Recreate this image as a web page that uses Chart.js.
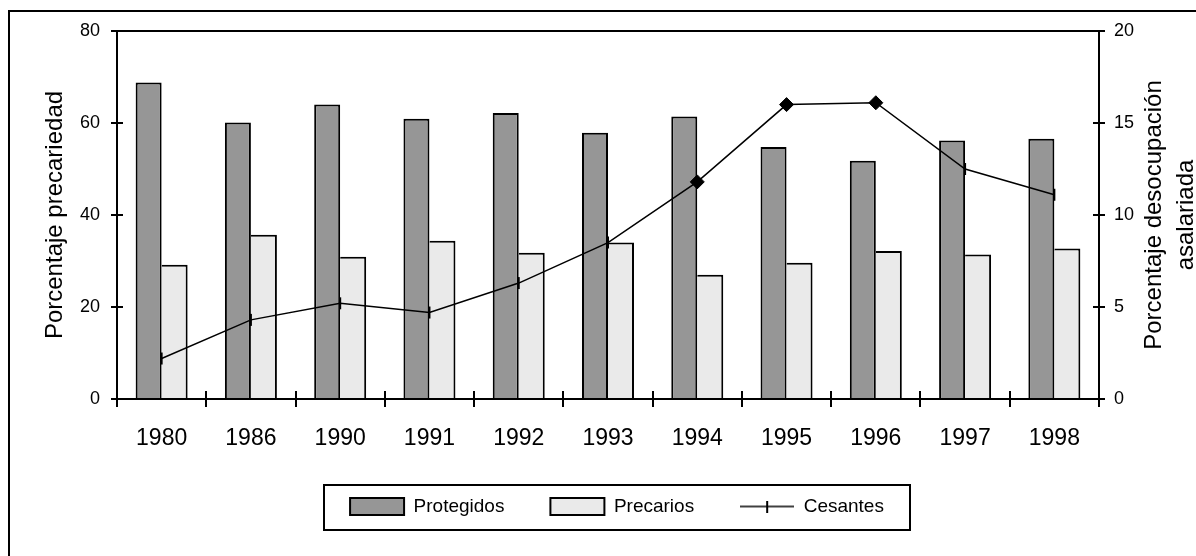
<!DOCTYPE html>
<html>
<head>
<meta charset="utf-8">
<script src="https://cdn.jsdelivr.net/npm/chart.js@4.4.0/dist/chart.umd.min.js"></script>
<style>
    html, body { margin: 0; padding: 0; background: #fff; overflow: hidden; }
    #frame {
        position: absolute; left: 8px; top: 10px; width: 1400px; height: 800px;
        border-top: 2px solid #000; border-left: 2px solid #000;
    }
    #chart { position: absolute; left: 0; top: 0; }
</style>
</head>
<body>
<div id="frame"></div>
<canvas id="chart" width="1196" height="556"></canvas>
<script>
const YEARS = ["1980", "1986", "1990", "1991", "1992", "1993", "1994", "1995", "1996", "1997", "1998"];
const PROTEGIDOS = [68.8, 60.1, 64.0, 60.9, 62.2, 57.9, 61.4, 54.8, 51.8, 56.2, 56.6];
const PRECARIOS = [29.2, 35.7, 30.9, 34.4, 31.8, 34.0, 27.0, 29.6, 32.2, 31.4, 32.7];
const CESANTES = [2.2, 4.3, 5.2, 4.7, 6.3, 8.5, 11.8, 16.0, 16.1, 12.5, 11.1];
const DIAMOND_YEARS = ["1994", "1995", "1996"];

const LEFT_AXIS = { min: 0, max: 80, step: 20, title: "Porcentaje precariedad" };
const RIGHT_AXIS = { min: 0, max: 20, step: 5, title: ["Porcentaje desocupación", "asalariada"] };

const FONT = "'Liberation Sans', Arial, sans-serif";

const isDiamond = YEARS.map(y => DIAMOND_YEARS.includes(y));

// legend symbol for the line: horizontal stroke with a short vertical tick
function lineSymbol() {
    const c = document.createElement("canvas");
    c.width = 54; c.height = 12;
    const g = c.getContext("2d");
    g.strokeStyle = "#000";
    g.lineWidth = 1.5;
    g.beginPath(); g.moveTo(0, 6); g.lineTo(54, 6); g.stroke();
    g.lineWidth = 2;
    g.beginPath(); g.moveTo(27, 0); g.lineTo(27, 12); g.stroke();
    return c;
}
const LINE_SYMBOL = lineSymbol();

const extras = {
    id: "extras",
    afterDraw(chart) {
        const { ctx, chartArea: a, scales } = chart;
        ctx.save();
        ctx.strokeStyle = "#000";
        ctx.lineWidth = 2;
        ctx.beginPath();
        // top edge of plot area
        ctx.moveTo(a.left, a.top); ctx.lineTo(a.right, a.top);
        // inner halves of the tick marks
        for (let i = 0; i <= YEARS.length; i++) {
            const px = Math.round(scales.x.getPixelForValue(i - 0.5));
            ctx.moveTo(px, a.bottom); ctx.lineTo(px, a.bottom - 8);
        }
        scales.y.ticks.forEach(t => {
            const py = Math.round(scales.y.getPixelForValue(t.value));
            ctx.moveTo(a.left, py); ctx.lineTo(a.left + 6, py);
        });
        scales.y2.ticks.forEach(t => {
            const py = Math.round(scales.y2.getPixelForValue(t.value));
            ctx.moveTo(a.right, py); ctx.lineTo(a.right - 6, py);
        });
        ctx.stroke();

        // frame round the legend
        const hb = chart.legend.legendHitBoxes;
        if (hb && hb.length) {
            const first = hb[0], last = hb[hb.length - 1];
            const l = Math.round(first.left - 26);
            const r = Math.round(last.left + last.width + 26);
            const t = Math.round(first.top - 12);
            const b = Math.round(first.top + first.height + 14);
            ctx.strokeRect(l, t, r - l, b - t);
        }

        // right axis title, reading bottom to top
        const cy = (a.top + a.bottom) / 2;
        ctx.fillStyle = "#000";
        ctx.font = "24px " + FONT;
        ctx.textAlign = "center";
        ctx.textBaseline = "middle";
        RIGHT_AXIS.title.forEach((line, i) => {
            ctx.save();
            ctx.translate(scales.y2.left + 55 + i * 32, cy);
            ctx.rotate(-Math.PI / 2);
            ctx.fillText(line, 0, 0);
            ctx.restore();
        });
        ctx.restore();
    },
};

new Chart(document.getElementById("chart"), {
    type: "bar",
    data: {
        labels: YEARS,
        datasets: [
            {
                label: "Protegidos",
                data: PROTEGIDOS,
                backgroundColor: "#969696",
                borderColor: "#000",
                borderWidth: { top: 2, right: 2, bottom: 0, left: 2 },
                categoryPercentage: 0.5825,
                barPercentage: 1,
                yAxisID: "y",
            },
            {
                label: "Precarios",
                data: PRECARIOS,
                backgroundColor: "#eaeaea",
                borderColor: "#000",
                borderWidth: { top: 2, right: 2, bottom: 0, left: 0 },
                categoryPercentage: 0.5825,
                barPercentage: 1,
                yAxisID: "y",
            },
            {
                type: "line",
                label: "Cesantes",
                data: CESANTES,
                yAxisID: "y2",
                order: -1,
                borderColor: "#000",
                borderWidth: 1.5,
                tension: 0,
                fill: false,
                pointStyle: isDiamond.map(d => d ? "rectRot" : "line"),
                pointRotation: isDiamond.map(d => d ? 0 : 90),
                pointRadius: isDiamond.map(d => d ? 7 : 6),
                pointBorderWidth: isDiamond.map(d => d ? 1 : 2),
                pointBackgroundColor: "#000",
                pointBorderColor: "#000",
            },
        ],
    },
    options: {
        responsive: false,
        animation: false,
        layout: { padding: { left: 38, right: 0, top: 31, bottom: 30 } },
        plugins: {
            tooltip: { enabled: false },
            legend: {
                position: "bottom",
                labels: {
                    usePointStyle: true,
                    pointStyleWidth: 54,
                    boxHeight: 17,
                    padding: 46,
                    color: "#000",
                    font: { family: FONT, size: 19 },
                    generateLabels: chart => chart.data.datasets.map((ds, i) => ({
                        text: ds.label,
                        fillStyle: ds.type === "line" ? "#000" : ds.backgroundColor,
                        strokeStyle: "#000",
                        lineWidth: 2,
                        pointStyle: ds.type === "line" ? LINE_SYMBOL : "rect",
                        rotation: 0,
                        fontColor: "#000",
                        hidden: false,
                        datasetIndex: i,
                    })),
                },
            },
        },
        scales: {
            x: {
                grid: { drawOnChartArea: false, offset: true, tickLength: 8, color: "#000", lineWidth: 2 },
                border: { color: "#000", width: 2 },
                ticks: { color: "#000", font: { family: FONT, size: 23 }, padding: 18, maxRotation: 0, autoSkip: false },
                afterFit: s => { s.height = 52; },
            },
            y: {
                position: "left",
                min: LEFT_AXIS.min,
                max: LEFT_AXIS.max,
                ticks: { stepSize: LEFT_AXIS.step, color: "#000", font: { family: FONT, size: 18 }, padding: 11 },
                grid: { drawOnChartArea: false, tickLength: 6, color: "#000", lineWidth: 2 },
                border: { color: "#000", width: 2 },
                title: {
                    display: true,
                    text: LEFT_AXIS.title,
                    color: "#000",
                    font: { family: FONT, size: 24 },
                    padding: { top: 3, bottom: 0 },
                },
                afterFit: s => { s.width = 79; },
            },
            y2: {
                position: "right",
                min: RIGHT_AXIS.min,
                max: RIGHT_AXIS.max,
                ticks: { stepSize: RIGHT_AXIS.step, color: "#000", font: { family: FONT, size: 18 }, padding: 9 },
                grid: { drawOnChartArea: false, tickLength: 6, color: "#000", lineWidth: 2 },
                border: { color: "#000", width: 2 },
                afterFit: s => { s.width = 97; },
            },
        },
    },
    plugins: [extras],
});
</script>
</body>
</html>
